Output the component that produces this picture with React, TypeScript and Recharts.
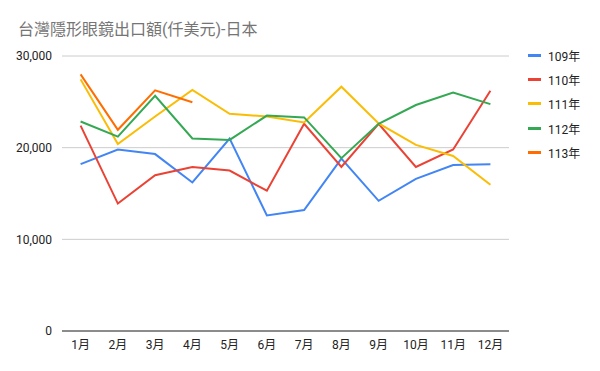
import React from 'react';
import { LineChart, Line, XAxis, YAxis, CartesianGrid } from 'recharts';

const MONTHS = ['1月', '2月', '3月', '4月', '5月', '6月', '7月', '8月', '9月', '10月', '11月', '12月'];
const Y109 = [18200, 19800, 19300, 16200, 21000, 12600, 13200, 18800, 14200, 16600, 18100, 18200];
const Y110 = [22400, 13900, 17000, 17900, 17500, 15300, 22600, 17900, 22600, 17900, 19800, 26200];
const Y111 = [27450, 20400, 23400, 26300, 23700, 23400, 22750, 26650, 22650, 20300, 19100, 15950];
const Y112 = [22850, 21200, 25650, 21000, 20850, 23500, 23300, 18850, 22600, 24650, 26000, 24750];
const Y113 = [28000, 21950, 26250, 24950];
const Y_TICKS = [0, 10000, 20000, 30000];

const SERIES = [
  { key: '109年', values: Y109, color: '#4285F4' },
  { key: '110年', values: Y110, color: '#EA4335' },
  { key: '111年', values: Y111, color: '#FBBC04' },
  { key: '112年', values: Y112, color: '#34A853' },
  { key: '113年', values: Y113, color: '#FF6D01' },
];

const data = MONTHS.map((m, i) => {
  const row: Record<string, string | number | null> = { month: m };
  SERIES.forEach((s) => {
    row[s.key] = i < s.values.length ? s.values[i] : null;
  });
  return row;
});

const FONT = 'Roboto, "Noto Sans CJK TC", "Noto Sans", sans-serif';

export default function App() {
  return (
    <div style={{ position: 'absolute', left: 0, top: 0, width: 600, height: 371, background: '#fff' }}>
      <div
        style={{
          position: 'absolute',
          left: 18,
          top: 16,
          fontFamily: FONT,
          fontSize: 16,
          color: '#757575',
          whiteSpace: 'nowrap',
        }}
      >
        台灣隱形眼鏡出口額(仟美元)-日本
      </div>
      <div style={{ position: 'absolute', left: 528, top: 43.5, fontFamily: FONT }}>
        {SERIES.map((s) => (
          <div key={s.key} style={{ display: 'flex', alignItems: 'center', height: 24.2 }}>
            <span style={{ width: 13, height: 3, background: s.color, display: 'inline-block', marginRight: 7 }} />
            <span style={{ fontSize: 12, color: '#222' }}>{s.key}</span>
          </div>
        ))}
      </div>
      <div style={{ position: 'absolute', left: 0, top: 0 }}>
        <LineChart width={600} height={371} data={data} margin={{ top: 56, right: 91, bottom: 10, left: 0 }}>
          <CartesianGrid vertical={false} stroke="#cccccc" />
          <XAxis
            dataKey="month"
            tickLine={false}
            axisLine={{ stroke: '#333' }}
            padding={{ left: 18.6, right: 18.6 }}
            tick={{ fontSize: 12, fill: '#222', fontFamily: FONT }}
            interval={0}
            height={30}
            tickMargin={3}
          />
          <YAxis
            domain={[0, 30000]}
            ticks={Y_TICKS}
            width={62}
            tickLine={false}
            axisLine={false}
            tick={{ fontSize: 12, fill: '#222', fontFamily: FONT }}
            tickFormatter={(v: number) => v.toLocaleString('en-US')}
            tickMargin={4}
          />
          {SERIES.map((s) => (
            <Line
              key={s.key}
              dataKey={s.key}
              stroke={s.color}
              strokeWidth={2}
              dot={false}
              activeDot={false}
              type="linear"
              isAnimationActive={false}
            />
          ))}
        </LineChart>
      </div>
    </div>
  );
}
